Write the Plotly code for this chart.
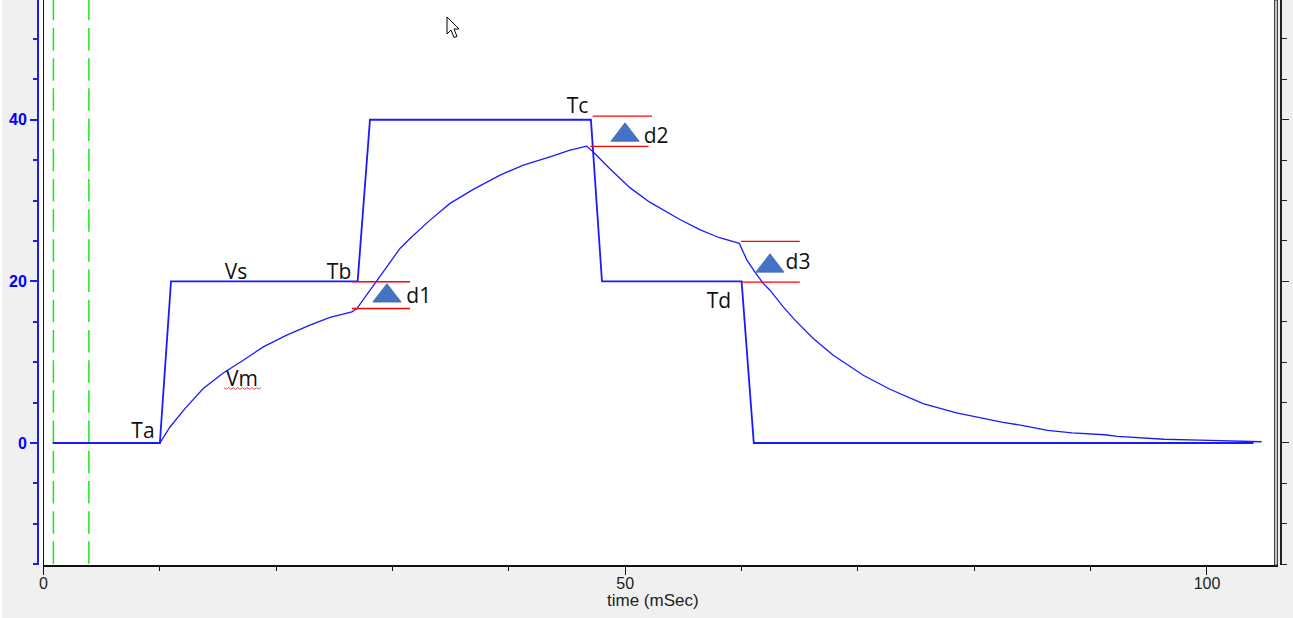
import plotly.graph_objects as go

# membrane trace
time_vs = [0.8, 10.0, 10.96, 27.0, 28.06, 47.05, 48.0, 60.0, 61.05, 104.0]
vs = [0, 0, 20, 20, 40, 40, 20, 20, 0, 0]

time_vm = [0.8, 10.0, 10.87, 12.16, 13.73, 15.45, 17.17, 18.89, 20.9, 22.9, 24.62, 26.5, 26.92,
           27.78, 28.64, 29.5, 30.64, 31.5, 33.22, 34.94, 36.94, 39.24, 41.24, 43.53, 45.25, 46.69,
           47.25, 48.7, 50.4, 52.1, 53.6, 54.7, 56.4, 58.1, 59.8,
           60.46, 61.15, 61.84, 62.44, 63.58, 64.59, 66.16, 67.88, 70.46, 72.75, 75.6, 78.47, 80.9,
           82.47, 84.2, 86.3, 88.4, 91.2, 92.3, 94.4, 96.3, 99.4, 103.3, 104.7]
vm = [0, 0, 1.98, 4.26, 6.74, 8.67, 10.24, 11.89, 13.34, 14.58, 15.53, 16.22, 16.6,
      18.3, 20.05, 21.85, 24.07, 25.31, 27.58, 29.65, 31.38, 33.15, 34.39, 35.42, 36.25, 36.74,
      36.0, 33.9, 31.6, 29.8, 28.5, 27.65, 26.4, 25.4, 24.7,
      22.63, 21.14, 19.78, 18.91, 16.84, 15.2, 12.93, 10.86, 8.38, 6.65, 4.88, 3.72, 3.0,
      2.55, 2.15, 1.57, 1.24, 1.02, 0.83, 0.62, 0.46, 0.36, 0.21, 0.15]

# green cursors
cursor_times = [0.85, 3.9]
cursor_span = [55.1, -15.1]

# red level markers (x start, x end, level)
levels = [(26.5, 31.5, 16.64), (26.5, 31.5, 19.95),
          (47.2, 52.3, 40.46), (47.0, 52.0, 36.7),
          (59.95, 65.0, 24.94), (60.0, 65.0, 19.9)]

# d1 d2 d3 triangles and their labels
delta_x = [29.52, 49.98, 62.44]
delta_y = [18.2, 38.1, 21.9]

label_text = ["Vs", "Vm", "Ta", "Tb", "Tc", "Td", "d1", "d2", "d3"]
label_x = [16.55, 17.05, 8.55, 25.4, 45.9, 58.05, 32.25, 52.65, 64.85]
label_y = [20.95, 7.75, 1.3, 20.95, 41.45, 17.35, 17.95, 37.75, 22.15]

# spell check underline below Vm
squiggle_x = [15.5, 15.7, 15.9, 16.1, 16.3, 16.5, 16.7, 16.9, 17.1, 17.3, 17.5, 17.7, 17.9, 18.1, 18.3, 18.5, 18.7]
squiggle_y = [6.85, 6.65, 6.85, 6.65, 6.85, 6.65, 6.85, 6.65, 6.85, 6.65, 6.85, 6.65, 6.85, 6.65, 6.85, 6.65, 6.85]

x_range = [0, 106.06]
y_range = [-15.1, 54.82]
y_ticks = [0, 20, 40]

BLUE = "#1a1aff"
BLUE_TEXT = "#0000ff"
GREEN = "#19e619"
RED = "#ff0000"
BG = "#f0f0f0"


def px_x(p):
    # paper coordinate of a window pixel
    return (p - 38) / 1243


fig = go.Figure()

for t in cursor_times:
    fig.add_trace(go.Scatter(x=[t, t], y=cursor_span, mode="lines", yaxis="y2",
                             line=dict(color=GREEN, width=1.5, dash="22.5px,7.7px"), hoverinfo="skip"))

fig.add_trace(go.Scatter(x=time_vs, y=vs, mode="lines", name="Vs", yaxis="y2",
                         line=dict(color=BLUE, width=1.8)))
fig.add_trace(go.Scatter(x=time_vm, y=vm, mode="lines", name="Vm", yaxis="y2",
                         line=dict(color=BLUE, width=1.3)))

for x0, x1, level in levels:
    fig.add_trace(go.Scatter(x=[x0, x1], y=[level, level], mode="lines", yaxis="y3",
                             line=dict(color=RED, width=1.3), hoverinfo="skip"))

fig.add_trace(go.Scatter(x=delta_x, y=delta_y, mode="markers",
                         marker=dict(symbol="triangle-up", size=24.5, color="#4472c4",
                                     line=dict(color="#3a65b0", width=0.8))))

fig.add_trace(go.Scatter(x=label_x, y=label_y, text=label_text, mode="text",
                         textfont=dict(family="Open Sans", size=21, color="#111111")))

fig.add_trace(go.Scatter(x=squiggle_x, y=squiggle_y, mode="lines",
                         line=dict(color="#e03030", width=0.9), hoverinfo="skip"))

shapes = [
    # gap between the blue axis and the plot
    dict(type="rect", xref="paper", yref="paper", x0=0, x1=px_x(44), y0=0, y1=1,
         fillcolor="white", line_width=0, layer="below"),
    # white strip on the left window edge
    dict(type="rect", xref="paper", yref="paper", x0=px_x(0), x1=px_x(2), y0=-0.1, y1=1,
         fillcolor="white", line_width=0, layer="below"),
    # grey bar at the right of the plot
    dict(type="rect", xref="paper", yref="paper", x0=px_x(1274.5), x1=px_x(1277.5), y0=0, y1=1,
         fillcolor="#c4c4c4", line=dict(color="#404040", width=1)),
    # mouse pointer
    dict(type="path", xref="x", yref="y", xsizemode="pixel", ysizemode="pixel",
         xanchor=(447 - 43.5) / 11.635, yanchor=(442.7 - 17) / 8.075,
         path="M 0 0 L 0 -17 L 4 -13 L 7 -20.5 L 10 -19.5 L 7 -12 L 12 -12 Z",
         fillcolor="white", line=dict(color="black", width=1)),
]

fig.update_layout(
    width=1293, height=618, showlegend=False,
    paper_bgcolor=BG, plot_bgcolor="white",
    margin=dict(l=38, r=12, t=0, b=53, pad=0),
    font=dict(family="Liberation Sans", color="black"),
    shapes=shapes,
    annotations=[dict(text="time (mSec)", xref="paper", yref="paper", x=px_x(652.5), y=-(600 - 565) / 565,
                      xanchor="center", yanchor="middle", showarrow=False,
                      font=dict(family="Liberation Sans", size=17, color="#222222"))],
    xaxis=dict(domain=[5.5 / 1243, 1239.5 / 1243], range=x_range, anchor="y",
               showgrid=False, zeroline=False, showline=True, linecolor="#111111", linewidth=1.5,
               ticks="outside", ticklen=8, tickwidth=1.2, tickcolor="#111111",
               tick0=0, dtick=50, tickfont=dict(size=16, color="#222222"), ticklabelstandoff=-5,
               minor=dict(dtick=10, tick0=0, ticks="outside", ticklen=4, tickwidth=1.2, tickcolor="#111111")),
    # black line at x = 0
    yaxis=dict(range=y_range, anchor="x", showgrid=False, zeroline=False, showline=True,
               linecolor="#111111", linewidth=1.2, ticks="", showticklabels=False),
    # blue scale on the left
    yaxis2=dict(range=y_range, overlaying="y", anchor="free", position=0, side="left",
                showgrid=False, zeroline=False, showline=True, linecolor=BLUE, linewidth=2,
                tickmode="array", tickvals=y_ticks, ticks="outside", ticklen=7, tickwidth=1.5, tickcolor=BLUE,
                tickfont=dict(family="Liberation Sans", size=16, color=BLUE_TEXT, weight="bold"),
                minor=dict(dtick=5, tick0=0, ticks="outside", ticklen=4, tickwidth=1.5, tickcolor=BLUE)),
    # black scale on the right, no labels
    yaxis3=dict(range=y_range, overlaying="y", anchor="free", position=1, side="right",
                showgrid=False, zeroline=False, showline=True, linecolor="#222222", linewidth=1.5,
                tickmode="array", tickvals=y_ticks, ticks="outside", ticklen=7, tickwidth=1.2, tickcolor="#222222",
                showticklabels=False,
                minor=dict(dtick=5, tick0=0, ticks="outside", ticklen=5, tickwidth=1.2, tickcolor="#222222")),
)

fig.write_html("out.html", config=dict(displayModeBar=False), post_script="document.body.style.margin='0';")
